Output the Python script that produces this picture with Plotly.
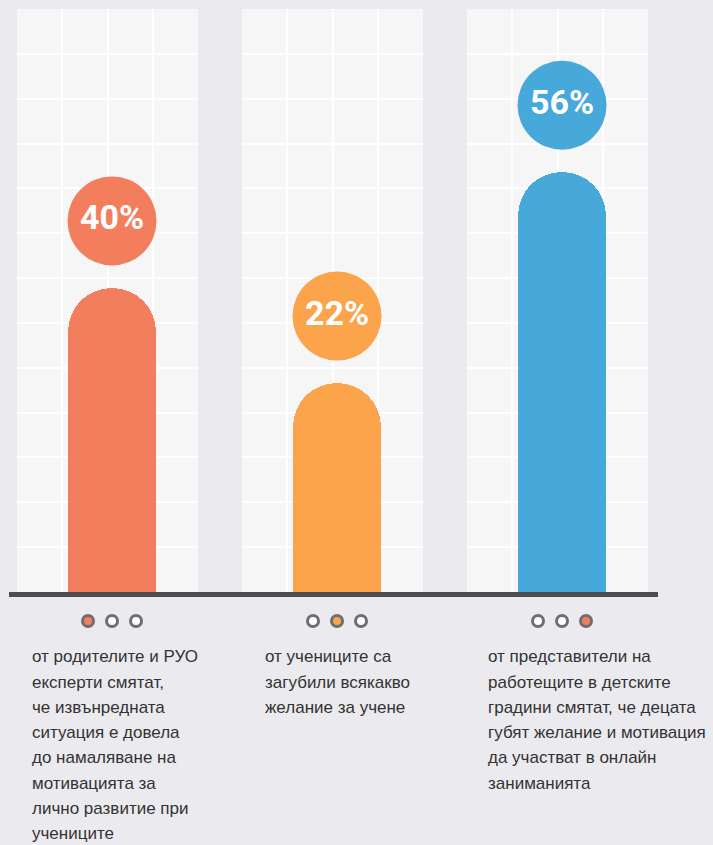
import plotly.graph_objects as go
from plotly.subplots import make_subplots

# ---- data ----
groups = ["родители и РУО експерти", "ученици", "работещи в детски градини"]
percent_labels = [40, 22, 56]
# visible bar lengths, in grid cells (13 cells tall panel)
bar_heights = [6.78, 4.66, 9.36]
captions = [
    ["от родителите и РУО", "експерти смятат,", "че извънредната", "ситуация е довела",
     "до намаляване на", "мотивацията за", "лично развитие при", "учениците"],
    ["от учениците са", "загубили всякакво", "желание за учене"],
    ["от представители на", "работещите в детските", "градини смятат, че децата",
     "губят желание и мотивация", "да участват в онлайн", "заниманията"],
]
active_dot = [0, 1, 2]

# ---- style ----
bar_colors = ["#F27E5E", "#FBA44B", "#47A8DA"]
dot_colors = ["#F27E5E", "#FBA44B", "#F27E5E"]
BG = "#EBEAEF"
PANEL = "#F6F6F6"
W, H = 713, 845
L, R, T, B = 17, 65, 9, 205
PW = W - L - R          # 631
PH = H - T - B          # 631
PANEL_H = 583
DOTS_H = 38
GAP = 10
CELL_Y = PANEL_H / 13.0
CELL_X = (PW * (181 / 631)) / 4
BAR_X = 2.1
LABEL_FONT = "Roboto, Liberation Sans, sans-serif"
TEXT_FONT = "Liberation Sans, Arial, sans-serif"


def px_x(X):
    return (X - L) / PW


def px_y(Y):
    return (T + PH - Y) / PH


fig = make_subplots(rows=2, cols=3, horizontal_spacing=44 / PW,
                    vertical_spacing=GAP / PH, row_heights=[PANEL_H, DOTS_H])

for i in range(3):
    col = i + 1
    h = bar_heights[i]
    fig.add_trace(go.Bar(
        x=[BAR_X], y=[h], width=1.96,
        marker=dict(color=bar_colors[i], cornerradius="50%", line=dict(width=0)),
        hoverinfo="skip", showlegend=False,
    ), row=1, col=col)
    # bubble with percentage
    fig.add_trace(go.Scatter(
        x=[BAR_X], y=[h + 67 / CELL_Y], mode="markers+text",
        marker=dict(size=89, color=bar_colors[i], line=dict(width=0)),
        text=[f"{percent_labels[i]}%"], textposition="middle center",
        textfont=dict(family=LABEL_FONT, size=34, color="white", weight="bold"),
        hoverinfo="skip", showlegend=False, cliponaxis=False,
    ), row=1, col=col)
    # indicator dots
    dx = 24 / CELL_X
    xs = [BAR_X - dx, BAR_X, BAR_X + dx]
    fills = ["white"] * 3
    fills[active_dot[i]] = dot_colors[i]
    fig.add_trace(go.Scatter(
        x=xs, y=[0, 0, 0], mode="markers",
        marker=dict(size=11, color=fills, line=dict(color="#6E6E6E", width=3)),
        hoverinfo="skip", showlegend=False, cliponaxis=False,
    ), row=2, col=col)

for i in range(6):
    suffix = "" if i == 0 else str(i + 1)
    if i < 3:
        fig.layout["xaxis" + suffix].update(
            range=[0, 4], tick0=0, dtick=1, showgrid=True, gridcolor="white", gridwidth=2,
            showticklabels=False, zeroline=False, showline=False, ticks="", fixedrange=True)
        fig.layout["yaxis" + suffix].update(
            range=[0, 13], tick0=0, dtick=1, showgrid=True, gridcolor="white", gridwidth=2,
            showticklabels=False, zeroline=False, showline=False, ticks="", fixedrange=True)
        xr = "x" + suffix
        yr = "y" + suffix
        fig.add_shape(type="rect", xref=xr + " domain", yref=yr + " domain",
                      x0=0, x1=1, y0=0, y1=1, fillcolor=PANEL, line=dict(width=0),
                      layer="below")
    else:
        fig.layout["xaxis" + suffix].update(
            range=[0, 4], showgrid=False, showticklabels=False, zeroline=False,
            showline=False, ticks="", fixedrange=True)
        fig.layout["yaxis" + suffix].update(
            range=[-1, 1], showgrid=False, showticklabels=False, zeroline=False,
            showline=False, ticks="", fixedrange=True)

# baseline
fig.add_shape(type="rect", xref="paper", yref="paper",
              x0=px_x(9), x1=px_x(658), y0=px_y(597), y1=px_y(592),
              fillcolor="#4D4D4D", line=dict(width=0), layer="above")

# captions (one annotation per line)
caption_x = [30, 263, 486]
LINE_H = 25.2
for i in range(3):
    for k, line in enumerate(captions[i]):
        fig.add_annotation(
            xref="paper", yref="paper", x=px_x(caption_x[i]), y=px_y(657 + k * LINE_H),
            xanchor="left", yanchor="middle", align="left", showarrow=False,
            text=line,
            font=dict(family=TEXT_FONT, size=17, color="#333333"),
        )

fig.update_layout(
    width=W, height=H, margin=dict(l=L, r=R, t=T, b=B),
    paper_bgcolor=BG, plot_bgcolor="rgba(0,0,0,0)", bargap=0, showlegend=False,
)

fig.write_html(
    "out.html",
    config={"displayModeBar": False},
    post_script="document.body.style.margin='0';document.body.style.background='#EBEAEF';",
)
